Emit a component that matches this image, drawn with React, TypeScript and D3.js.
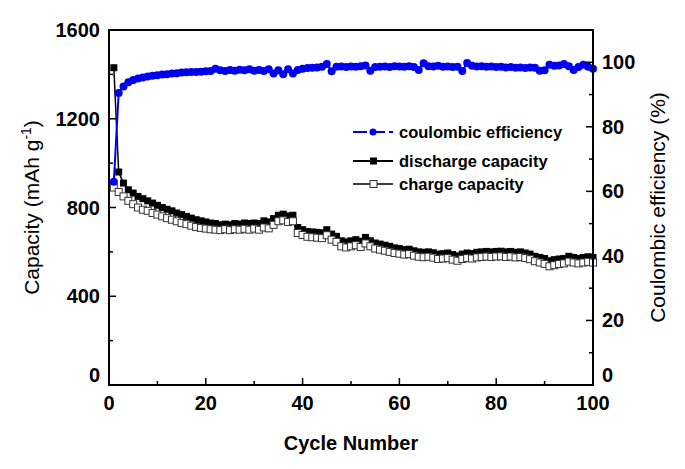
import React from 'react';
import * as d3 from 'd3';

// cycle numbers 1..100
const cycles = Array.from({ length: 100 }, (_, i) => i + 1);

const discharge = [
  1430, 960, 910, 880, 865, 850, 840, 830, 820, 810,
  800, 792, 785, 775, 768, 760, 752, 745, 740, 735,
  730, 728, 722, 725, 722, 728, 725, 730, 728, 730,
  728, 740, 735, 750, 765, 770, 762, 765, 710, 700,
  692, 690, 688, 686, 700, 680, 670, 650, 645, 650,
  655, 648, 665, 650, 640, 635, 630, 625, 618, 615,
  610, 612, 605, 600, 598, 600, 596, 590, 592, 595,
  588, 582, 590, 595, 592, 598, 600, 602, 600, 602,
  603, 600, 602, 598, 600, 595, 590, 580, 575, 570,
  560, 565, 568, 570, 580, 575, 570, 575, 578, 575,
];

const charge = [
  890, 870, 850, 830, 815, 800, 790, 785, 775, 768,
  760, 752, 745, 738, 730, 725, 718, 712, 708, 705,
  702, 700, 698, 702, 698, 702, 700, 704, 700, 705,
  700, 710, 706, 722, 738, 742, 735, 738, 685, 676,
  668, 666, 664, 662, 675, 655, 645, 625, 620, 625,
  630, 622, 638, 625, 615, 610, 605, 600, 595, 592,
  588, 590, 583, 578, 576, 578, 574, 568, 570, 572,
  565, 560, 568, 572, 570, 575, 577, 579, 577, 579,
  580, 577, 579, 575, 577, 572, 567, 558, 552, 546,
  535, 540, 545, 548, 556, 552, 548, 552, 555, 552,
];

const efficiency = [
  63, 90.5, 92.5, 93.8, 94.5, 95, 95.3, 95.6, 95.8, 96,
  96.2, 96.3, 96.5, 96.6, 96.8, 96.9, 97, 97, 97.1, 97.2,
  97.3, 98, 97.5, 97.3, 97.6, 97.4, 97.7, 97.5, 97.8, 97.4,
  97.6, 97.3, 97.8, 96.5, 97.5, 96.3, 97.8, 96.5, 97.6, 98,
  98.2, 98.3, 98.4, 98.6, 99.5, 97.2, 98.6, 98.7, 98.5, 98.7,
  98.6, 98.8, 99, 97.4, 98.5, 98.6, 98.7, 98.5, 98.8, 98.7,
  98.6, 98.8, 98.5, 97.6, 99.7, 98.8, 98.7, 98.9, 98.6, 98.7,
  98.5, 98.6, 97.3, 99.8, 98.9, 98.7, 98.8, 98.6, 98.7, 98.5,
  98.6, 98.4, 98.5, 98.3, 98.4, 98.2, 98.4, 98.3, 97.4, 97.5,
  99.2, 98.9, 99, 99.5, 98.8, 97.6, 98.5, 99.2, 98.6, 98,
];

const xTicks = [0, 20, 40, 60, 80, 100];
const xMinor = [10, 30, 50, 70, 90];
const capTicks = [0, 400, 800, 1200, 1600];
const capMinor = [200, 600, 1000, 1400];
const effTicks = [0, 20, 40, 60, 80, 100];
const effMinor = [10, 30, 50, 70, 90];

const legendItems = ['coulombic efficiency', 'discharge capacity', 'charge capacity'];

const W = 685;
const H = 469;
const margin = { top: 30, right: 92, bottom: 84, left: 109 };
const font = 'Arial, "Liberation Sans", sans-serif';

export default function App() {
  const x = d3.scaleLinear().domain([0, 100]).range([margin.left, W - margin.right]);
  const yCap = d3.scaleLinear().domain([0, 1600]).range([H - margin.bottom, margin.top]);
  const yEff = d3.scaleLinear().domain([0, 110]).range([H - margin.bottom, margin.top]);

  const x0 = margin.left;
  const x1 = W - margin.right;
  const y0 = H - margin.bottom;
  const y1 = margin.top;

  const capLine = (vals: number[]) =>
    d3.line<number>().x((_, i) => x(cycles[i])).y((d) => yCap(d))(vals) || '';
  const effLine =
    d3.line<number>().x((_, i) => x(cycles[i])).y((d) => yEff(d))(efficiency) || '';

  const sq = 7;
  const lgX = 353;
  const lgY = [132, 161, 184];

  // the zero labels sit a little above their ticks, like the original
  const zeroShift = (t: number) => (t === 0 ? -10 : 0);

  return (
    <svg width={W} height={H} style={{ position: 'absolute', left: 0, top: 0, background: '#fff' }}>
      <rect x={0} y={0} width={W} height={H} fill="#fff" />

      {/* discharge */}
      <path d={capLine(discharge)} fill="none" stroke="#000" strokeWidth={1.5} />
      {discharge.map((d, i) => (
        <rect key={'d' + i} x={x(cycles[i]) - sq / 2} y={yCap(d) - sq / 2} width={sq} height={sq} fill="#000" />
      ))}

      {/* charge */}
      <path d={capLine(charge)} fill="none" stroke="#000" strokeWidth={1} />
      {charge.map((d, i) => (
        <rect key={'c' + i} x={x(cycles[i]) - sq / 2} y={yCap(d) - sq / 2} width={sq} height={sq} fill="#fff" stroke="#333" strokeWidth={1} />
      ))}

      {/* coulombic efficiency */}
      <path d={effLine} fill="none" stroke="#0000ee" strokeWidth={2} />
      {efficiency.map((d, i) => (
        <circle key={'e' + i} cx={x(cycles[i])} cy={yEff(d)} r={4} fill="#0000ee" />
      ))}

      {/* frame */}
      <rect x={x0} y={y1} width={x1 - x0} height={y0 - y1} fill="none" stroke="#000" strokeWidth={2} />

      {/* bottom ticks */}
      {xTicks.map((t) => (
        <g key={'xt' + t}>
          <line x1={x(t)} x2={x(t)} y1={y0} y2={y0 - 7} stroke="#000" strokeWidth={1.5} />
          <text x={x(t)} y={y0 + 25} textAnchor="middle" fontFamily={font} fontWeight="bold" fontSize={20}>
            {t}
          </text>
        </g>
      ))}
      {xMinor.map((t) => (
        <line key={'xm' + t} x1={x(t)} x2={x(t)} y1={y0} y2={y0 - 4} stroke="#000" strokeWidth={1.5} />
      ))}

      {/* left ticks */}
      {capTicks.map((t) => (
        <g key={'ct' + t}>
          <line x1={x0} x2={x0 + 7} y1={yCap(t)} y2={yCap(t)} stroke="#000" strokeWidth={1.5} />
          <text x={x0 - 9} y={yCap(t) + 7 + zeroShift(t)} textAnchor="end" fontFamily={font} fontWeight="bold" fontSize={20}>
            {t}
          </text>
        </g>
      ))}
      {capMinor.map((t) => (
        <line key={'cm' + t} x1={x0} x2={x0 + 4} y1={yCap(t)} y2={yCap(t)} stroke="#000" strokeWidth={1.5} />
      ))}

      {/* right ticks */}
      {effTicks.map((t) => (
        <g key={'et' + t}>
          <line x1={x1} x2={x1 - 7} y1={yEff(t)} y2={yEff(t)} stroke="#000" strokeWidth={1.5} />
          <text x={x1 + 9} y={yEff(t) + 7 + zeroShift(t)} textAnchor="start" fontFamily={font} fontWeight="bold" fontSize={20}>
            {t}
          </text>
        </g>
      ))}
      {effMinor.map((t) => (
        <line key={'em' + t} x1={x1} x2={x1 - 4} y1={yEff(t)} y2={yEff(t)} stroke="#000" strokeWidth={1.5} />
      ))}

      {/* axis titles */}
      <text x={(x0 + x1) / 2} y={450} textAnchor="middle" fontFamily={font} fontWeight="bold" fontSize={20}>
        Cycle Number
      </text>
      <text
        transform={`translate(39, ${(y0 + y1) / 2}) rotate(-90)`}
        textAnchor="middle"
        fontFamily={font}
        fontSize={21}
      >
        Capacity (mAh g<tspan dy={-8} fontSize={14}>-1</tspan>
        <tspan dy={8}>)</tspan>
      </text>
      <text
        transform={`translate(665, ${(y0 + y1) / 2}) rotate(-90)`}
        textAnchor="middle"
        fontFamily={font}
        fontSize={21}
      >
        Coulombic efficiency (%)
      </text>

      {/* legend */}
      <g>
        <line x1={lgX} x2={lgX + 40} y1={lgY[0]} y2={lgY[0]} stroke="#0000ee" strokeWidth={2} strokeDasharray="14,4" />
        <circle cx={lgX + 20} cy={lgY[0]} r={3.5} fill="#0000ee" />
        <line x1={lgX} x2={lgX + 40} y1={lgY[1]} y2={lgY[1]} stroke="#000" strokeWidth={2} />
        <rect x={lgX + 17} y={lgY[1] - 3.5} width={7} height={7} fill="#000" />
        <line x1={lgX} x2={lgX + 40} y1={lgY[2]} y2={lgY[2]} stroke="#000" strokeWidth={1.5} />
        <rect x={lgX + 17} y={lgY[2] - 3.5} width={7} height={7} fill="#fff" stroke="#333" strokeWidth={1} />
        {legendItems.map((s, i) => (
          <text key={s} x={lgX + 46} y={lgY[i] + 6} fontFamily={font} fontWeight="bold" fontSize={16.5}>
            {s}
          </text>
        ))}
      </g>
    </svg>
  );
}
